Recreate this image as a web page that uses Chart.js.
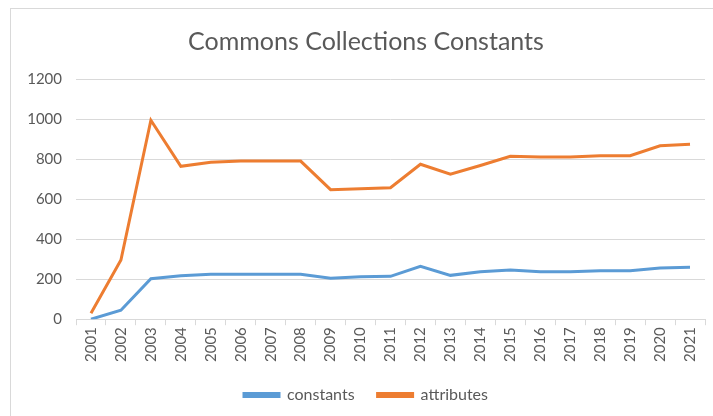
<!DOCTYPE html>
<html>
<head>
<meta charset="utf-8">
<script src="https://cdn.jsdelivr.net/npm/chart.js@4/dist/chart.umd.min.js"></script>
<style>
  html, body { margin: 0; padding: 0; background: #fff; }
  #frame {
    position: absolute; left: 10px; top: 8px;
    width: 703px; height: 408px;
    border-top: 1px solid #d9d9d9; border-left: 1px solid #d9d9d9;
  }
  #chart { display: block; }
</style>
</head>
<body>
<div id="frame"><canvas id="chart" width="702" height="408"></canvas></div>
<script>
const years = ['2001', '2002', '2003', '2004', '2005', '2006', '2007', '2008', '2009', '2010', '2011',
               '2012', '2013', '2014', '2015', '2016', '2017', '2018', '2019', '2020', '2021'];
const constants = [0, 45, 202, 217, 225, 225, 225, 225, 205, 212, 214,
                   264, 219, 237, 246, 237, 237, 242, 242, 256, 259];
const attributes = [30, 296, 994, 764, 784, 790, 790, 790, 647, 652, 657,
                    774, 724, 768, 814, 810, 810, 817, 817, 866, 874];
const yTicks = [0, 200, 400, 600, 800, 1000, 1200];

const fontFamily = 'Lato, "Open Sans", sans-serif';
const textColor = '#595959';
const gridColor = '#d9d9d9';

new Chart(document.getElementById('chart'), {
    type: 'line',
    data: {
        labels: years,
        datasets: [
            {
                label: 'constants',
                data: constants,
                borderColor: '#5b9bd5',
                backgroundColor: '#5b9bd5',
                borderWidth: 3,
                pointRadius: 0,
                tension: 0
            },
            {
                label: 'attributes',
                data: attributes,
                borderColor: '#ed7d31',
                backgroundColor: '#ed7d31',
                borderWidth: 3,
                pointRadius: 0,
                tension: 0
            }
        ]
    },
    options: {
        responsive: false,
        animation: false,
        layout: { padding: { left: 16, right: 8, top: 0, bottom: 4 } },
        plugins: {
            title: {
                display: true,
                text: 'Commons Collections Constants',
                color: textColor,
                font: { family: fontFamily, size: 25, weight: 'normal' },
                padding: { top: 18, bottom: 22 }
            },
            legend: {
                position: 'bottom',
                labels: {
                    color: textColor,
                    font: { family: fontFamily, size: 16 },
                    boxWidth: 35,
                    boxHeight: 3,
                    padding: 23
                }
            },
            tooltip: { enabled: false }
        },
        scales: {
            x: {
                offset: true,
                grid: {
                    offset: true,
                    drawOnChartArea: false,
                    color: gridColor,
                    tickLength: 6
                },
                border: { color: gridColor },
                ticks: {
                    color: textColor,
                    font: { family: fontFamily, size: 15 },
                    minRotation: 90,
                    maxRotation: 90,
                    autoSkip: false,
                    padding: 2
                }
            },
            y: {
                min: 0,
                max: 1200,
                afterBuildTicks: axis => { axis.ticks = yTicks.map(v => ({ value: v })); },
                afterFit: axis => { axis.width = 49; },
                grid: { color: gridColor, drawTicks: false },
                border: { display: false },
                ticks: {
                    color: textColor,
                    font: { family: fontFamily, size: 15 },
                    padding: 14,
                    callback: value => String(value)
                }
            }
        }
    }
});
</script>
</body>
</html>
